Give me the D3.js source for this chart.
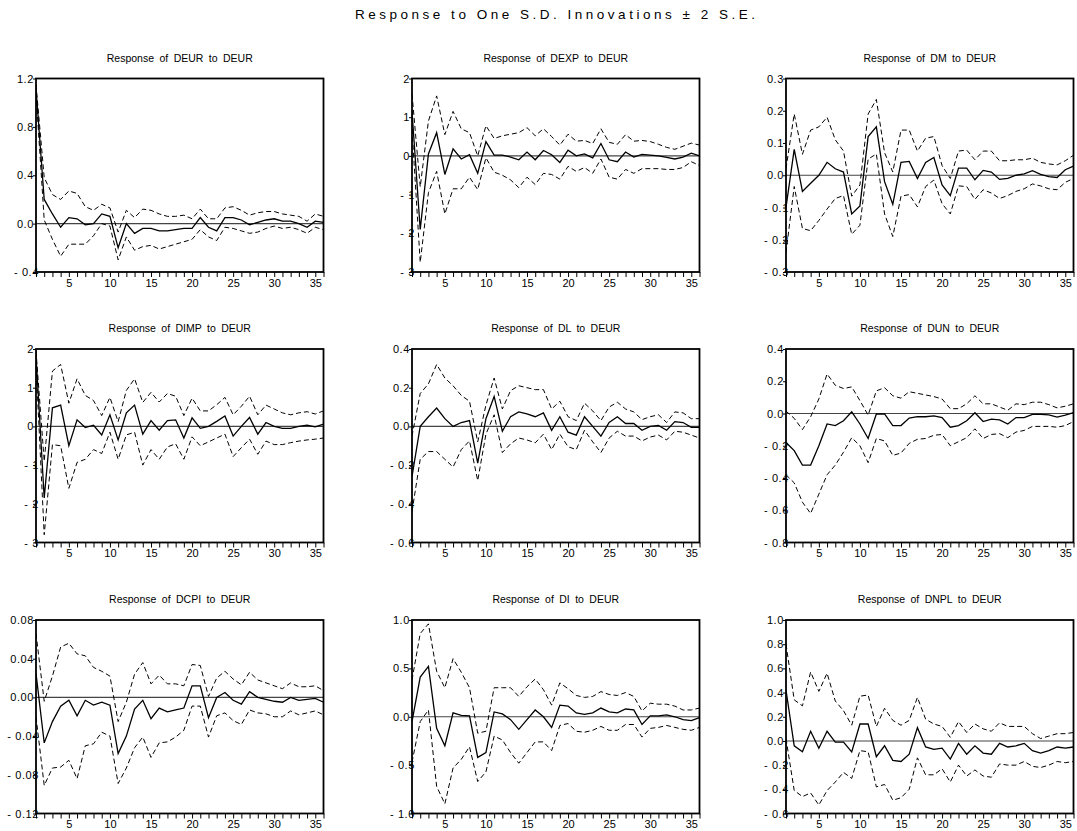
<!DOCTYPE html>
<html><head><meta charset="utf-8">
<script src="https://cdn.jsdelivr.net/npm/d3@7"></script>
<style>
body{margin:0;background:#fff;}
svg{display:block;font-family:"Liberation Sans",Arial,sans-serif;}
</style></head><body>
<svg id="c" width="1077" height="831"></svg>
<script>
const mainTitle = "Response to One S.D. Innovations \u00b1 2 S.E.";
const periods = d3.range(1, 37);
const panelTitles = ["Response of DEUR to DEUR","Response of DEXP to DEUR","Response of DM to DEUR",
  "Response of DIMP to DEUR","Response of DL to DEUR","Response of DUN to DEUR",
  "Response of DCPI to DEUR","Response of DI to DEUR","Response of DNPL to DEUR"];
const yDomains = [[-0.4,1.2],[-3,2],[-0.3,0.3],[-3,2],[-0.6,0.4],[-0.8,0.4],[-0.12,0.08],[-1,1],[-0.6,1.0]];
const yTicks = [[-0.4,0,0.4,0.8,1.2],[-3,-2,-1,0,1,2],[-0.3,-0.2,-0.1,0,0.1,0.2,0.3],[-3,-2,-1,0,1,2],
  [-0.6,-0.4,-0.2,0,0.2,0.4],[-0.8,-0.6,-0.4,-0.2,0,0.2,0.4],[-0.12,-0.08,-0.04,0,0.04,0.08],
  [-1,-0.5,0,0.5,1],[-0.6,-0.4,-0.2,0,0.2,0.4,0.6,0.8,1.0]];
const yDecimals = [1,0,1,0,1,1,2,1,1];
const xTickLabels = [5,10,15,20,25,30,35];

// DEUR
const resp1 = [1.12,0.2,0.08,-0.03,0.05,0.04,-0.01,0.0,0.08,0.06,-0.2,0.0,-0.08,-0.04,-0.04,-0.06,-0.06,-0.05,-0.04,-0.04,0.05,-0.03,-0.06,0.05,0.05,0.03,-0.01,0.01,0.03,0.04,0.02,0.02,0.0,-0.03,0.02,0.01];
const upper1 = [1.15,0.38,0.24,0.2,0.27,0.25,0.14,0.11,0.16,0.13,-0.07,0.11,0.05,0.12,0.11,0.08,0.06,0.06,0.07,0.04,0.12,0.04,0.04,0.13,0.14,0.11,0.07,0.09,0.1,0.1,0.08,0.07,0.06,0.02,0.08,0.06];
const lower1 = [1.08,0.03,-0.13,-0.27,-0.17,-0.17,-0.17,-0.1,0.0,-0.02,-0.3,-0.11,-0.22,-0.19,-0.18,-0.21,-0.19,-0.17,-0.15,-0.13,-0.05,-0.11,-0.14,-0.03,-0.04,-0.06,-0.08,-0.07,-0.04,-0.02,-0.04,-0.03,-0.05,-0.08,-0.03,-0.05];
// DEXP
const resp2 = [1.15,-1.9,0.05,0.6,-0.48,0.18,-0.08,0.03,-0.45,0.37,0.02,0.02,-0.03,-0.1,0.1,-0.1,0.14,0.03,-0.17,0.15,0.0,0.05,-0.05,0.32,-0.1,-0.15,0.1,-0.03,0.04,0.02,0.0,-0.04,-0.08,-0.03,0.07,0.0];
const upper2 = [1.6,-0.8,0.9,1.55,0.55,1.15,0.7,0.6,0.0,0.78,0.45,0.52,0.56,0.6,0.73,0.52,0.7,0.5,0.28,0.56,0.38,0.4,0.32,0.7,0.35,0.3,0.55,0.38,0.4,0.37,0.3,0.22,0.17,0.25,0.33,0.28];
const lower2 = [0.7,-2.75,-0.95,-0.4,-1.5,-0.85,-0.85,-0.55,-0.87,-0.05,-0.42,-0.5,-0.62,-0.82,-0.55,-0.74,-0.45,-0.48,-0.6,-0.27,-0.4,-0.3,-0.45,-0.08,-0.55,-0.6,-0.35,-0.45,-0.33,-0.33,-0.33,-0.35,-0.35,-0.3,-0.15,-0.25];
// DM
const resp3 = [-0.1,0.08,-0.05,-0.025,0.0,0.04,0.02,0.01,-0.12,-0.095,0.12,0.15,-0.02,-0.09,0.04,0.043,-0.01,0.04,0.055,-0.03,-0.063,0.022,0.022,-0.014,0.015,0.01,-0.013,-0.01,0.0,0.004,0.014,0.003,-0.004,-0.007,0.017,0.028];
const upper3 = [0.02,0.19,0.065,0.14,0.15,0.18,0.11,0.075,-0.065,-0.03,0.19,0.235,0.07,0.01,0.14,0.14,0.075,0.115,0.12,0.03,-0.01,0.075,0.078,0.048,0.075,0.075,0.045,0.045,0.048,0.048,0.053,0.04,0.035,0.032,0.045,0.062];
const lower3 = [-0.24,-0.035,-0.165,-0.172,-0.14,-0.105,-0.072,-0.063,-0.183,-0.155,0.05,0.066,-0.12,-0.19,-0.065,-0.06,-0.098,-0.035,-0.015,-0.088,-0.12,-0.033,-0.035,-0.075,-0.045,-0.055,-0.072,-0.063,-0.05,-0.042,-0.027,-0.033,-0.042,-0.045,-0.022,-0.01];
// DIMP
const resp4 = [1.85,-1.85,0.48,0.55,-0.5,0.17,-0.03,0.03,-0.22,0.3,-0.35,0.35,0.55,-0.2,0.15,-0.1,0.15,0.17,-0.3,0.22,-0.05,0.0,0.13,0.27,-0.25,0.0,0.23,-0.2,0.1,0.0,-0.05,-0.05,0.0,0.03,-0.01,0.06];
const upper4 = [1.95,-0.9,1.43,1.6,0.6,1.23,0.8,0.67,0.28,0.75,0.12,0.93,1.23,0.62,0.88,0.63,0.85,0.78,0.28,0.73,0.4,0.4,0.56,0.75,0.3,0.52,0.78,0.3,0.55,0.45,0.35,0.3,0.35,0.38,0.32,0.4];
const lower4 = [1.6,-2.8,-0.47,-0.5,-1.6,-0.93,-0.85,-0.6,-0.7,-0.15,-0.85,-0.22,-0.15,-1.0,-0.6,-0.85,-0.53,-0.45,-0.85,-0.27,-0.5,-0.4,-0.3,-0.2,-0.78,-0.55,-0.33,-0.72,-0.38,-0.47,-0.47,-0.42,-0.38,-0.35,-0.33,-0.3];
// DL
const resp5 = [-0.26,0.0,0.05,0.095,0.04,0.0,0.02,0.03,-0.19,0.04,0.155,-0.025,0.05,0.075,0.065,0.05,0.07,-0.02,0.05,-0.03,-0.045,0.05,0.0,-0.05,0.02,0.05,0.015,0.015,-0.02,0.0,0.005,-0.02,0.025,0.02,-0.005,-0.005];
const upper5 = [-0.05,0.17,0.22,0.32,0.25,0.21,0.16,0.13,-0.08,0.11,0.25,0.09,0.185,0.21,0.2,0.19,0.19,0.09,0.13,0.05,0.03,0.12,0.08,0.03,0.1,0.125,0.09,0.075,0.035,0.05,0.06,0.02,0.075,0.07,0.04,0.04];
const lower5 = [-0.44,-0.17,-0.13,-0.13,-0.17,-0.21,-0.12,-0.075,-0.28,-0.04,0.06,-0.135,-0.09,-0.06,-0.07,-0.085,-0.04,-0.12,-0.04,-0.105,-0.12,-0.02,-0.08,-0.135,-0.06,-0.025,-0.05,-0.05,-0.075,-0.055,-0.045,-0.07,-0.025,-0.03,-0.045,-0.06];
// DUN
const resp6 = [-0.18,-0.23,-0.32,-0.32,-0.2,-0.065,-0.075,-0.045,0.01,-0.065,-0.155,-0.003,-0.003,-0.075,-0.075,-0.028,-0.02,-0.02,-0.015,-0.025,-0.085,-0.075,-0.045,0.005,-0.05,-0.035,-0.04,-0.065,-0.025,-0.025,-0.005,-0.005,-0.008,-0.022,-0.01,0.005];
const upper6 = [0.015,-0.03,-0.1,-0.02,0.09,0.245,0.175,0.155,0.165,0.08,-0.01,0.14,0.16,0.11,0.095,0.135,0.125,0.115,0.105,0.09,0.03,0.03,0.06,0.11,0.06,0.06,0.04,0.02,0.06,0.055,0.07,0.07,0.055,0.035,0.045,0.06];
const lower6 = [-0.38,-0.43,-0.55,-0.62,-0.5,-0.38,-0.32,-0.24,-0.15,-0.2,-0.305,-0.155,-0.17,-0.26,-0.245,-0.185,-0.16,-0.155,-0.135,-0.13,-0.2,-0.175,-0.15,-0.095,-0.155,-0.13,-0.125,-0.15,-0.115,-0.105,-0.08,-0.08,-0.08,-0.085,-0.075,-0.05];
// DCPI
const resp7 = [0.025,-0.047,-0.025,-0.009,-0.003,-0.019,-0.003,-0.008,-0.005,-0.008,-0.058,-0.04,-0.012,-0.003,-0.022,-0.011,-0.015,-0.013,-0.011,0.012,0.012,-0.021,0.0,0.005,-0.003,-0.007,0.006,0.0,-0.002,-0.004,-0.005,0.0,-0.003,-0.002,-0.001,-0.005];
const upper7 = [0.066,-0.004,0.022,0.052,0.056,0.045,0.043,0.031,0.027,0.022,-0.025,-0.005,0.024,0.036,0.014,0.023,0.014,0.014,0.012,0.034,0.033,0.001,0.02,0.027,0.019,0.013,0.026,0.018,0.015,0.012,0.009,0.015,0.011,0.011,0.012,0.007];
const lower7 = [-0.02,-0.091,-0.073,-0.072,-0.065,-0.084,-0.05,-0.048,-0.036,-0.04,-0.089,-0.073,-0.052,-0.041,-0.062,-0.047,-0.046,-0.041,-0.034,-0.009,-0.009,-0.041,-0.019,-0.016,-0.024,-0.028,-0.013,-0.016,-0.017,-0.02,-0.02,-0.014,-0.018,-0.016,-0.014,-0.018];
// DI
const resp8 = [-0.05,0.41,0.52,-0.12,-0.3,0.04,0.015,0.01,-0.42,-0.37,0.05,0.03,-0.03,-0.13,-0.03,0.07,0.0,-0.11,0.12,0.11,0.04,0.025,0.04,0.09,0.05,0.04,0.08,0.07,-0.08,0.01,0.01,0.02,0.0,-0.03,-0.04,-0.01];
const upper8 = [0.38,0.86,0.96,0.47,0.3,0.6,0.46,0.3,-0.17,-0.15,0.3,0.3,0.3,0.21,0.31,0.39,0.28,0.12,0.35,0.29,0.22,0.2,0.21,0.26,0.23,0.22,0.25,0.21,0.06,0.14,0.13,0.13,0.11,0.07,0.07,0.09];
const lower8 = [-0.47,-0.05,0.07,-0.72,-0.9,-0.53,-0.44,-0.31,-0.67,-0.57,-0.2,-0.24,-0.37,-0.48,-0.37,-0.26,-0.26,-0.35,-0.09,-0.07,-0.15,-0.16,-0.14,-0.1,-0.14,-0.14,-0.08,-0.08,-0.21,-0.12,-0.11,-0.09,-0.11,-0.13,-0.14,-0.11];
// DNPL
const resp9 = [0.42,-0.04,-0.09,0.08,-0.06,0.08,-0.01,-0.01,-0.09,0.14,0.14,-0.13,-0.04,-0.16,-0.17,-0.11,0.11,-0.05,-0.07,-0.06,-0.15,-0.02,-0.11,-0.04,-0.1,-0.11,-0.02,-0.05,-0.04,-0.02,-0.08,-0.1,-0.08,-0.05,-0.06,-0.05];
const upper9 = [0.8,0.34,0.29,0.57,0.41,0.56,0.33,0.25,0.13,0.37,0.38,0.12,0.27,0.17,0.13,0.17,0.36,0.18,0.14,0.12,0.03,0.16,0.07,0.14,0.1,0.08,0.15,0.12,0.12,0.12,0.06,0.02,0.04,0.06,0.06,0.07];
const lower9 = [0.02,-0.41,-0.46,-0.43,-0.53,-0.41,-0.34,-0.26,-0.31,-0.08,-0.09,-0.38,-0.36,-0.49,-0.47,-0.4,-0.14,-0.28,-0.28,-0.23,-0.34,-0.2,-0.29,-0.24,-0.29,-0.3,-0.19,-0.2,-0.2,-0.17,-0.21,-0.22,-0.2,-0.17,-0.18,-0.17];

const responses = [resp1,resp2,resp3,resp4,resp5,resp6,resp7,resp8,resp9];
const uppers = [upper1,upper2,upper3,upper4,upper5,upper6,upper7,upper8,upper9];
const lowers = [lower1,lower2,lower3,lower4,lower5,lower6,lower7,lower8,lower9];

const svg = d3.select("#c");
const colLeft = [36, 412, 786];
const rowTop = [78.5, 349, 620];
const pw = 287.5, ph = 193.5;

svg.append("text").attr("x", 555).attr("y", 19).attr("text-anchor","middle")
  .attr("font-size", 13.5).attr("textLength", 400).attr("lengthAdjust","spacing")
  .text(mainTitle);

function fmt(v, dec){
  const s = Math.abs(v).toFixed(dec);
  return (v < -1e-9 ? "- " : "") + s;
}

for (let i = 0; i < 9; i++){
  const L = colLeft[i % 3], T = rowTop[Math.floor(i / 3)];
  const g = svg.append("g");
  const x = d3.scaleLinear().domain([1, 36]).range([L, L + pw]);
  const y = d3.scaleLinear().domain(yDomains[i]).range([T + ph, T]);

  g.append("text").attr("x", L + pw / 2).attr("y", T - 17).attr("text-anchor","middle")
    .attr("font-size", 10.5).attr("word-spacing", 2.5).text(panelTitles[i]);

  // y axis
  const ya = d3.axisLeft(y).tickValues(yTicks[i]).tickSize(3).tickPadding(0)
    .tickFormat(d => fmt(d, yDecimals[i]));
  const yg = g.append("g").attr("transform", `translate(${L},0)`).call(ya);
  yg.select(".domain").remove();
  yg.selectAll("text").attr("font-size", 11).attr("letter-spacing", 0.6)
    .attr("font-family", '"Liberation Sans",Arial,sans-serif').attr("fill","#000")
    .attr("x", d => d < -1e-9 ? 3 : -2);
  yg.selectAll("line").attr("stroke","#000");

  // x axis minor ticks
  const xa = d3.axisBottom(x).tickValues(periods).tickSize(5)
    .tickFormat(d => xTickLabels.includes(d) ? d : "");
  const xg = g.append("g").attr("transform", `translate(0,${T + ph})`).call(xa);
  xg.select(".domain").remove();
  xg.selectAll("text").attr("font-size", 11).attr("y", 7)
    .attr("font-family", '"Liberation Sans",Arial,sans-serif').attr("fill","#000");
  xg.selectAll("line").attr("stroke","#000");

  const clipId = "clip" + i;
  svg.append("clipPath").attr("id", clipId).append("rect")
    .attr("x", L).attr("y", T).attr("width", pw).attr("height", ph);
  const pg = g.append("g").attr("clip-path", `url(#${clipId})`);

  // zero line
  pg.append("line").attr("x1", L).attr("x2", L + pw).attr("y1", y(0)).attr("y2", y(0))
    .attr("stroke", "#444").attr("stroke-width", 1.1);

  const line = d3.line().x((d, k) => x(periods[k])).y(d => y(d));
  pg.append("path").datum(uppers[i]).attr("d", line).attr("fill","none")
    .attr("stroke","#000").attr("stroke-width",1).attr("stroke-dasharray","5,3");
  pg.append("path").datum(lowers[i]).attr("d", line).attr("fill","none")
    .attr("stroke","#000").attr("stroke-width",1).attr("stroke-dasharray","5,3");
  pg.append("path").datum(responses[i]).attr("d", line).attr("fill","none")
    .attr("stroke","#000").attr("stroke-width",1.3);

  g.append("rect").attr("x", L).attr("y", T).attr("width", pw).attr("height", ph)
    .attr("fill","none").attr("stroke","#000").attr("stroke-width",1.8);
}
</script>
</body></html>
